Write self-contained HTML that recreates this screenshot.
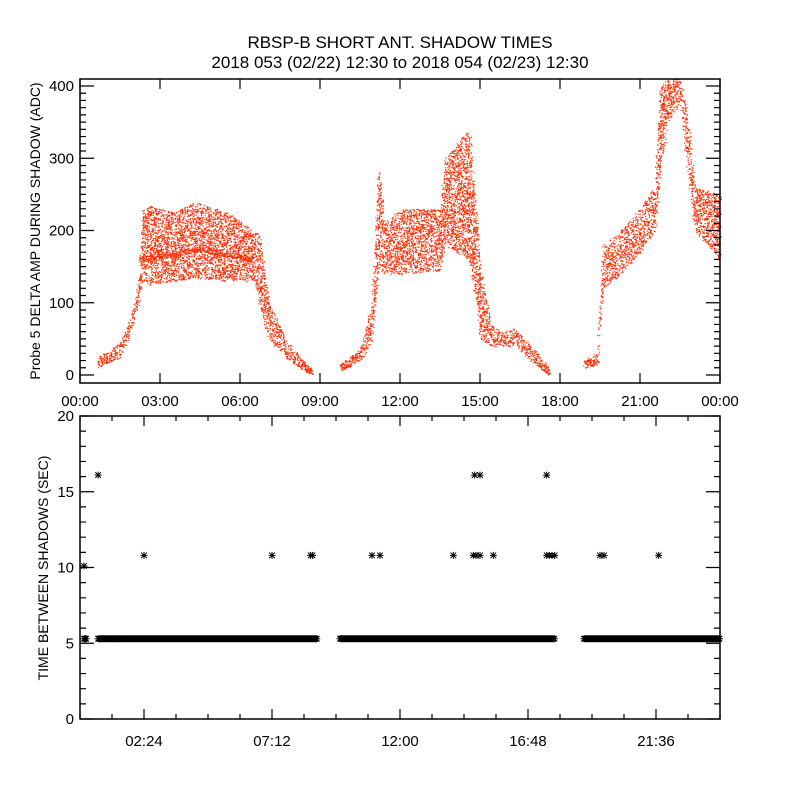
<!DOCTYPE html>
<html><head><meta charset="utf-8">
<style>
html,body{margin:0;padding:0;background:#fff;}
svg{display:block;font-family:"Liberation Sans",sans-serif;}
text{fill:#000;}
</style></head>
<body>
<svg id="chart" width="800" height="800" viewBox="0 0 800 800" xmlns="http://www.w3.org/2000/svg">
<rect width="800" height="800" fill="#fff"/>
<text x="400" y="48" font-size="17" text-anchor="middle">RBSP-B SHORT ANT. SHADOW TIMES</text>
<text x="400" y="68" font-size="17" text-anchor="middle">2018 053 (02/22) 12:30 to 2018 054 (02/23) 12:30</text>
<g id="topPanel"></g>
<g id="botPanel"></g>
<text transform="translate(40,231) rotate(-90)" font-size="14" text-anchor="middle">Probe 5 DELTA AMP DURING SHADOW (ADC)</text>
<text transform="translate(48,568) rotate(-90)" font-size="14" text-anchor="middle">TIME BETWEEN SHADOWS (SEC)</text>
</svg>
<script>
// ---- data ----
const seg1Hours=[0.68,1.5,1.9,2.2,2.36,2.6,3.5,4.3,5.5,6.56,6.75,7.1,7.7,8.25,8.7];
const seg1Low=[10,25,60,100,130,125,130,135,130,130,90,50,25,10,0];
const seg1High=[25,45,80,130,230,235,225,240,225,200,190,100,50,25,8];
const seg2Hours=[9.75,10.5,10.95,11.2,11.4,12,13.5,13.7,14.6,14.8,15,15.4,15.75,16.3,16.9,17.6];
const seg2Low=[5,20,50,150,140,140,145,180,160,110,50,40,40,40,20,0];
const seg2High=[15,35,100,290,210,230,230,300,340,250,150,70,60,65,40,10];
const seg3Hours=[18.9,19.4,19.6,20.25,21,21.55,21.75,22.05,22.5,22.8,23.05,24];
const seg3Low=[10,15,120,140,170,200,280,350,380,280,200,160];
const seg3High=[20,30,180,200,230,260,400,410,410,350,260,250];
const midHours=[2.2,3,4.5,6.5];
const midVals=[160,165,175,160];
const bandStart=[0.15,0.68,9.75,18.9];
const bandEnd=[0.25,8.9,17.8,24];
const bandValue=[5.3,5.3,5.3,5.3];
const outlierHours=[0.15,0.68,2.4,7.2,8.65,8.72,10.95,11.25,14.0,14.8,15.0,14.75,14.85,15.0,15.5,17.5,17.5,17.6,17.7,17.8,19.5,19.65,21.7];
const outlierVals=[10.1,16.1,10.8,10.8,10.8,10.8,10.8,10.8,10.8,16.1,16.1,10.8,10.8,10.8,10.8,16.1,10.8,10.8,10.8,10.8,10.8,10.8,10.8];
const topXTicks=["00:00","03:00","06:00","09:00","12:00","15:00","18:00","21:00","00:00"];
const topYTicks=[0,100,200,300,400];
const botXTicks=["02:24","07:12","12:00","16:48","21:36"];
const botYTicks=[0,5,10,15,20];

const NS="http://www.w3.org/2000/svg";
function mk(tag,attrs,parent){const e=document.createElementNS(NS,tag);for(const k in attrs)e.setAttribute(k,attrs[k]);parent.appendChild(e);return e;}
const L=80,R=720;
const xs=h=>L+(R-L)*h/24;
const T1=79,B1=383,ys1=v=>375-v*0.7225;
const T2=416,B2=719,ys2=v=>B2-(B2-T2)*v/20;
const topG=document.getElementById('topPanel'),botG=document.getElementById('botPanel');

function interp(hs,vs,t){for(let i=0;i<hs.length-1;i++){if(t>=hs[i]&&t<=hs[i+1]){const f=(t-hs[i])/(hs[i+1]-hs[i]);return vs[i]+f*(vs[i+1]-vs[i]);}}return null;}
function hash(n){const s=Math.sin(n*12.9898)*43758.5453;return s-Math.floor(s);}

// scatter dots (deterministic texture inside envelope)
let d="";let k=0;
[[seg1Hours,seg1Low,seg1High],[seg2Hours,seg2Low,seg2High],[seg3Hours,seg3Low,seg3High]].forEach(s=>{
  const [hs,lo,hi]=s;
  for(let t=hs[0];t<=hs[hs.length-1];t+=0.012){
    const a=interp(hs,lo,t),b=interp(hs,hi,t);if(a===null)continue;
    const n=Math.max(2,Math.round((b-a)/11));
    for(let j=0;j<n;j++){k++;const f=hash(k);const v=a+f*(b-a);const y=Math.max(T1,ys1(v));
      const x=xs(t)+(hash(k+0.5)-0.5)*2.5;
      d+="M"+x.toFixed(1)+" "+y.toFixed(1)+"h1.2v1.2h-1.2z";}
  }
});
for(let t=midHours[0];t<=midHours[midHours.length-1];t+=0.012){k++;const v=interp(midHours,midVals,t)+(hash(k)-0.5)*8;d+="M"+xs(t).toFixed(1)+" "+ys1(v).toFixed(1)+"h1.2v1.2h-1.2z";}
const dots=mk('path',{d:d,fill:'#ff2a00'},topG);



function frame(g,T,B,ys,yTicks,yMinor,ymax,xMajor,xMinorStep,xLabels,labelY,xLabelHours){
  const r=mk('rect',{x:L,y:T,width:R-L,height:B-T,fill:'none',stroke:'#000','stroke-width':1.5},g);
  
  
  let p="";
  for(let v=0;v<=ymax+1e-6;v+=yMinor){const y=ys(v);if(y<T)continue;const big=yTicks.some(t=>Math.abs(t-v)<1e-6);const len=big?14:6;p+="M"+L+" "+y+"h"+len+"M"+R+" "+y+"h-"+len;}
  for(let h=0;h<=24+1e-6;h+=xMinorStep){const x=xs(h);const big=xMajor.some(m=>Math.abs(m-h)<1e-6);const len=big?10:5;p+="M"+x+" "+B+"v-"+len+"M"+x+" "+T+"v"+len;}
  mk('path',{d:p,stroke:'#000','stroke-width':1.2,fill:'none'},g);
  yTicks.forEach(v=>{const t=mk('text',{x:L-6,y:ys(v)+5,'font-size':15,'text-anchor':'end'},g);t.textContent=v;
    
    });
  xLabels.forEach((s,i)=>{const t=mk('text',{x:xs(xLabelHours[i]),y:labelY,'font-size':15,'text-anchor':'middle'},g);t.textContent=s;
    
    });
}
frame(topG,T1,B1,ys1,topYTicks,10,410,[0,3,6,9,12,15,18,21,24],3,topXTicks,406,topXTicks.map((_,i)=>i*3));
frame(botG,T2,B2,ys2,botYTicks,1,20,[2.4,7.2,12,16.8,21.6],1.2,botXTicks,746,[2.4,7.2,12,16.8,21.6]);

function star(x,y){const s=3.5;return "M"+(x-s)+" "+y+"h"+(2*s)+"M"+x+" "+(y-s)+"v"+(2*s)+"M"+(x-s*0.8)+" "+(y-s*0.8)+"l"+(1.6*s)+" "+(1.6*s)+"M"+(x-s*0.8)+" "+(y+s*0.8)+"l"+(1.6*s)+" "+(-1.6*s);}
let sp="";
bandStart.forEach((a,i)=>{for(let t=a;t<=bandEnd[i];t+=0.04){sp+=star(xs(t),ys2(bandValue[i]));}});
outlierHours.forEach((h,i)=>{sp+=star(xs(h),ys2(outlierVals[i]));});
const stars=mk('path',{d:sp,stroke:'#000','stroke-width':1,fill:'none'},botG);


</script>
</body></html>
